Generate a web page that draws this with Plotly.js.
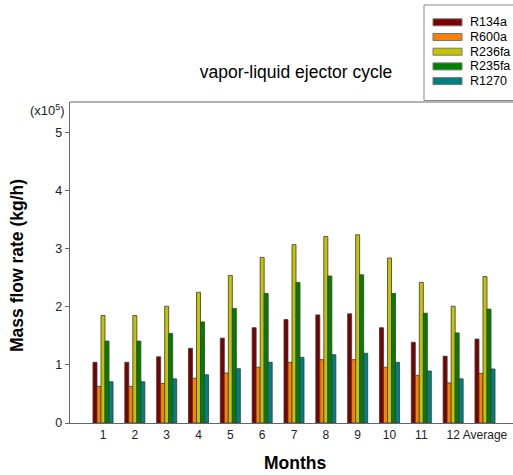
<!DOCTYPE html>
<html><head><meta charset="utf-8">
<script src="https://cdn.plot.ly/plotly-3.0.1.min.js"></script>
<style>html,body{margin:0;padding:0;background:#fff;}#chart{width:513px;height:475px;}</style>
</head><body><div id="chart"></div>
<script>
// Data (units of 1e5 kg/h)
const categories = ['1','2','3','4','5','6','7','8','9','10','11','12','Average'];
const seriesNames = ['R134a','R600a','R236fa','R235fa','R1270'];
const R134a  = [1.045,1.045,1.14,1.285,1.46,1.64,1.78,1.86,1.88,1.64,1.39,1.15,1.445];
const R600a  = [0.63,0.63,0.68,0.77,0.86,0.96,1.045,1.09,1.09,0.96,0.82,0.69,0.855];
const R236fa = [1.85,1.85,2.01,2.25,2.54,2.85,3.07,3.21,3.24,2.84,2.42,2.01,2.52];
const R235fa = [1.41,1.41,1.54,1.74,1.97,2.23,2.42,2.53,2.55,2.23,1.89,1.55,1.96];
const R1270  = [0.71,0.71,0.76,0.83,0.935,1.045,1.13,1.175,1.2,1.045,0.895,0.76,0.93];
const seriesValues = [R134a,R600a,R236fa,R235fa,R1270];
const colors = ['#7b0000','#ff8000','#c4c400','#008000','#008080'];

const W=513,H=475, L=70, R=513, T=102, B=423;
const FONT='Arial, "Liberation Sans", sans-serif';
const px2x = x => (x-L)/(R-L);
const px2y = y => (B-y)/(B-T);

const traces = seriesNames.map((n,i)=>({
  type:'bar', name:n, x:categories, y:seriesValues[i],
  marker:{color:colors[i], line:{color:'#3a3a3a', width:0.8}},
  showlegend:false, hoverinfo:'x+y+name'
}));

const shapes = [
  {type:'line', xref:'paper', yref:'paper', x0:0, x1:1, y0:1, y1:1, line:{color:'#999', width:1.5}},
  {type:'rect', xref:'paper', yref:'paper', x0:px2x(424), x1:px2x(520), y0:px2y(100.5), y1:px2y(5), line:{color:'#8a8a8a', width:1}, fillcolor:'rgba(0,0,0,0)'}
];
const annotations = [
  {text:'(x10<sup>5</sup>)', xref:'paper', yref:'paper', x:px2x(67), y:px2y(110), xanchor:'right', yanchor:'middle', showarrow:false, font:{family:FONT, size:13, color:'#222'}},
  {text:'<b>Mass flow rate (kg/h)</b>', xref:'paper', yref:'paper', x:px2x(17), y:px2y(266), xanchor:'center', yanchor:'middle', textangle:-90, showarrow:false, font:{family:FONT, size:17.5, color:'#000'}},
  {text:'<b>Months</b>', xref:'paper', yref:'paper', x:px2x(295), y:px2y(463), xanchor:'center', yanchor:'middle', showarrow:false, font:{family:FONT, size:17.5, color:'#000'}}
];
seriesNames.forEach((n,i)=>{
  const yc = 22.3 + i*14.7;
  shapes.push({type:'rect', xref:'paper', yref:'paper', x0:px2x(433), x1:px2x(462), y0:px2y(yc+3.5), y1:px2y(yc-3.5), fillcolor:colors[i], line:{color:'#777', width:1}});
  annotations.push({text:n, xref:'paper', yref:'paper', x:px2x(468), y:px2y(yc), xanchor:'left', yanchor:'middle', showarrow:false, font:{family:FONT, size:12.5, color:'#000'}});
});

const layout = {
  width:W, height:H,
  margin:{l:L, r:W-R, t:T, b:H-B, pad:0},
  paper_bgcolor:'#fff', plot_bgcolor:'#fff',
  barmode:'group', bargap:0.37, bargroupgap:0,
  title:{text:'vapor-liquid ejector cycle', x:296/W, xref:'container', xanchor:'center', y:1-72/H, yref:'container', yanchor:'middle', font:{family:FONT, size:17.5, color:'#000'}},
  xaxis:{type:'category', range:[-1.037, 12.88], showline:true, linecolor:'#666', linewidth:1.2, showgrid:false, zeroline:false, ticks:'', tickangle:0, tickfont:{family:FONT, size:12, color:'#222'}, fixedrange:true},
  yaxis:{range:[0, 5.525], dtick:1, tick0:0, showline:true, linecolor:'#666', linewidth:1.2, showgrid:false, zeroline:false, ticks:'outside', ticklen:4, tickcolor:'#666', tickfont:{family:FONT, size:12.5, color:'#222'}, fixedrange:true},
  shapes:shapes, annotations:annotations, showlegend:false
};
Plotly.newPlot('chart', traces, layout, {displayModeBar:false, staticPlot:true});
</script></body></html>
